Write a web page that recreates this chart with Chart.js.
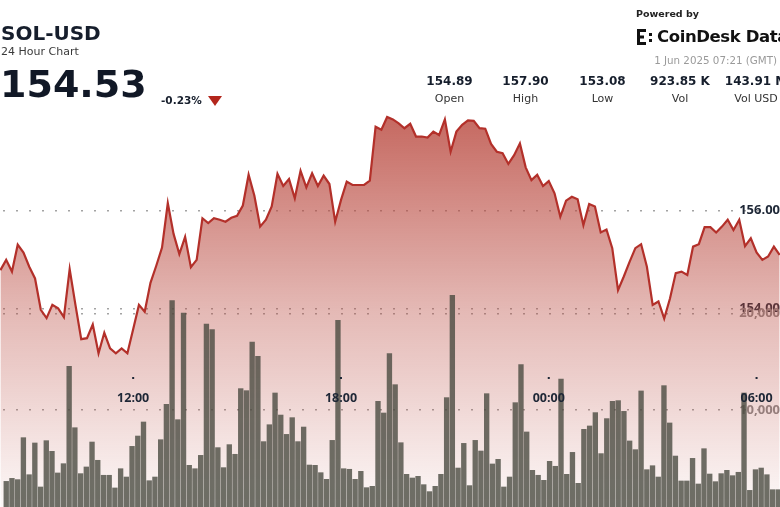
<!DOCTYPE html>
<html>
<head>
<meta charset="utf-8">
<script src="https://cdn.jsdelivr.net/npm/chart.js@4.4.1/dist/chart.umd.min.js"></script>
<style>
  html, body { margin: 0; padding: 0; background: #fff; }
  body { width: 780px; height: 507px; overflow: hidden; position: relative; color: #161e2c; }
  #chart { position: absolute; left: 0; top: 0; }
  .t { position: absolute; line-height: 1; white-space: nowrap; font-family: "DejaVu Sans", sans-serif; }
  .b { font-weight: bold; }
  .stat { width: 90px; text-align: center; }
</style>
</head>
<body>
<canvas id="chart" width="780" height="507"></canvas>

<div class="t b" style="left:1px;top:23px;font-size:20px;">SOL-USD</div>
<div class="t" style="left:1px;top:46px;font-size:11px;color:#3a3a3a;">24 Hour Chart</div>
<div class="t b" style="left:0;top:65px;font-size:38px;color:#111826;">154.53</div>
<div class="t b" style="left:161px;top:95px;font-size:10.5px;">-0.23%</div>
<div style="position:absolute;left:208px;top:96px;width:0;height:0;border-left:7px solid transparent;border-right:7px solid transparent;border-top:10px solid #b3261c;"></div>

<div class="t b" style="left:636px;top:9px;font-size:9.5px;color:#222;">Powered by</div>
<svg style="position:absolute;left:636px;top:28px" width="20" height="18" viewBox="0 0 20 18">
  <rect x="1" y="1" width="3" height="16" fill="#111"/>
  <rect x="1" y="1" width="9" height="3" fill="#111"/>
  <rect x="1" y="7.5" width="7" height="3" fill="#111"/>
  <rect x="1" y="14" width="9" height="3" fill="#111"/>
  <rect x="13" y="5" width="3" height="3" fill="#111"/>
  <rect x="13" y="11" width="3" height="3" fill="#111"/>
</svg>
<div class="t b" style="left:657px;top:29px;font-size:16.5px;letter-spacing:-0.4px;color:#111;">CoinDesk Data</div>
<div class="t" style="right:3px;top:55px;font-size:10.3px;color:#9a9a9a;">1 Jun 2025 07:21 (GMT)</div>

<div id="stats"></div>

<script>
// header stats
const statLabels = ['Open', 'High', 'Low', 'Vol', 'Vol USD'];
const statValues = ['154.89', '157.90', '153.08', '923.85 K', '143.91 M'];
const statCenters = [449.5, 525.5, 602.5, 680, 756];

// 10-minute candles, first visible one at 08:10
const startTime = '08:10';
const stepMinutes = 10;

const priceValues = [
  154.78, 154.99, 154.75, 155.30, 155.14, 154.85, 154.61, 153.97, 153.80, 154.07,
  154.00, 153.82, 154.80, 154.07, 153.37, 153.39, 153.67, 153.08, 153.50, 153.18,
  153.08, 153.18, 153.08, 153.57, 154.07, 153.93, 154.52, 154.87, 155.24, 156.15,
  155.52, 155.11, 155.46, 154.84, 154.99, 155.84, 155.74, 155.84, 155.81, 155.77,
  155.85, 155.89, 156.10, 156.73, 156.30, 155.67, 155.81, 156.08, 156.75, 156.50,
  156.64, 156.25, 156.81, 156.47, 156.76, 156.50, 156.71, 156.54, 155.77, 156.21,
  156.59, 156.52, 156.52, 156.52, 156.61, 157.71, 157.65, 157.91, 157.86, 157.78,
  157.68, 157.77, 157.51, 157.51, 157.49, 157.61, 157.54, 157.86, 157.20, 157.61,
  157.75, 157.84, 157.83, 157.68, 157.67, 157.36, 157.20, 157.17, 156.95, 157.13,
  157.37, 156.88, 156.62, 156.73, 156.50, 156.60, 156.35, 155.87, 156.20, 156.28,
  156.23, 155.70, 156.13, 156.08, 155.55, 155.61, 155.23, 154.37, 154.65, 154.95,
  155.23, 155.31, 154.85, 154.07, 154.14, 153.79, 154.20, 154.72, 154.75, 154.68,
  155.26, 155.31, 155.66, 155.66, 155.55, 155.67, 155.81, 155.60, 155.81, 155.27,
  155.43, 155.14, 154.99, 155.06, 155.26, 155.09
];

const volumeValues = [
  2650, 2960, 2830, 7170, 3340, 6620, 2070, 6860, 5760, 3520,
  4480, 14550, 8200, 3450, 4140, 6720, 4830, 3280, 3280, 1970,
  3960, 3100, 6270, 7340, 8790, 2720, 3100, 6960, 10620, 21340,
  9030, 20060, 4310, 3960, 5340, 18920, 18340, 6140, 4070, 6450,
  5450, 12240, 12030, 17060, 15580, 6760, 8510, 11790, 9510, 7510,
  9240, 6760, 8270, 4340, 4310, 3550, 2860, 6890, 19300, 3960,
  3900, 2860, 3690, 2000, 2140, 10930, 9720, 15860, 12650, 6650,
  3380, 3000, 3170, 2310, 1590, 2140, 3380, 11310, 21890, 4030,
  6580, 2210, 6890, 5790, 11720, 4450, 4930, 2070, 3100, 10790,
  14720, 7760, 3790, 3280, 2760, 4720, 4210, 13240, 3380, 5650,
  2450, 8030, 8380, 9760, 5520, 9140, 10930, 11000, 9890, 6830,
  5930, 12000, 3860, 4270, 3100, 12550, 8690, 5270, 2690, 2690,
  5030, 2380, 6030, 3410, 2620, 3450, 3790, 3240, 3590, 11790,
  1720, 3860, 4030, 3340, 1790, 1790
];

const priceTicks = [154, 156];
const volumeTicks = [10000, 20000];
const timeTickLabels = ['12:00', '18:00', '00:00', '06:00'];

function toMinutes(hhmm) {
  const [h, m] = hhmm.split(':').map(Number);
  return h * 60 + m;
}
function minutesFromStart(hhmm) {
  return (toMinutes(hhmm) - toMinutes(startTime) + 1440) % 1440;
}

// stats row
const statsEl = document.getElementById('stats');
statLabels.forEach((label, i) => {
  const left = statCenters[i] - 45;
  statsEl.insertAdjacentHTML('beforeend',
    `<div class="t b stat" style="left:${left}px;top:74.5px;font-size:12px;">${statValues[i]}</div>` +
    `<div class="t stat" style="left:${left}px;top:92.5px;font-size:11px;color:#333;">${label}</div>`);
});

// y axes sit on the right edge with labels drawn inside the plot, taking no room
function flatAxis(scale) {
  scale.width = 0;
  scale.paddingTop = 0;
  scale.paddingBottom = 0;
  scale.paddingLeft = 0;
  scale.paddingRight = 0;
}

// time labels are printed inside the plot, above the volume bars
const timeLabels = {
  id: 'timeLabels',
  afterDatasetsDraw(chart) {
    const { ctx, chartArea, scales } = chart;
    ctx.save();
    ctx.fillStyle = '#1e2736';
    ctx.font = 'bold 12.5px "Open Sans"';
    ctx.textAlign = 'center';
    ctx.textBaseline = 'middle';
    timeTickLabels.forEach((label) => {
      const x = scales.x.getPixelForValue(minutesFromStart(label));
      ctx.fillRect(x - 1, chartArea.bottom - 130, 2, 2);
      ctx.fillText(label, x, chartArea.bottom - 109);
    });
    ctx.restore();
  },
};

const noTicks = (s) => { s.ticks = []; };

const ctx = document.getElementById('chart').getContext('2d');
new Chart(ctx, {
  data: {
    datasets: [
      {
        type: 'line',
        label: 'Price',
        data: priceValues.map((v, i) => ({ x: i * stepMinutes, y: v })),
        xAxisID: 'x',
        yAxisID: 'y',
        borderColor: '#b3302a',
        borderWidth: 2.2,
        pointRadius: 0,
        tension: 0,
        fill: 'start',
        backgroundColor(context) {
          const { chart } = context;
          const { ctx, chartArea, scales } = chart;
          if (!chartArea) return 'rgba(185,72,62,0.4)';
          const top = scales.y.getPixelForValue(Math.max(...priceValues));
          const g = ctx.createLinearGradient(0, top, 0, chartArea.bottom);
          g.addColorStop(0, 'rgba(185,72,62,0.82)');
          g.addColorStop(0.5, 'rgba(185,72,62,0.38)');
          g.addColorStop(1, 'rgba(185,72,62,0.04)');
          return g;
        },
        order: 2,
      },
      {
        type: 'bar',
        label: 'Volume',
        data: volumeValues.map((v, i) => ({ x: i * stepMinutes + stepMinutes / 2, y: v })),
        xAxisID: 'xv',
        yAxisID: 'yv',
        backgroundColor: 'rgba(70,72,62,0.78)',
        barThickness: 4.7,
        order: 1,
      },
    ],
  },
  options: {
    responsive: false,
    animation: false,
    devicePixelRatio: 1,
    layout: { padding: 0 },
    plugins: { legend: { display: false }, tooltip: { enabled: false } },
    scales: {
      x: { type: 'linear', display: false, offset: false, min: -0.7, max: 1350.6, afterBuildTicks: noTicks },
      // volume bars read slightly tighter than the price line in the picture
      xv: {
        type: 'linear', display: false, offset: false, min: -1.8, max: 1362,
        grid: { offset: false }, afterBuildTicks: noTicks,
      },
      y: {
        type: 'linear',
        position: 'right',
        min: 149.94,
        max: 160.30,
        z: 1,
        afterBuildTicks: (s) => { s.ticks = priceTicks.map((v) => ({ value: v })); },
        afterFit: flatAxis,
        grid: { drawTicks: false, color: '#a3a3a3', lineWidth: 1.6 },
        border: { display: false, dash: [2, 11], dashOffset: -3 },
        ticks: {
          mirror: true,
          padding: 0,
          color: '#1e2736',
          font: { family: 'Open Sans', weight: 'bold', size: 13 },
          callback: (v) => v.toFixed(2),
        },
      },
      yv: {
        type: 'linear',
        position: 'right',
        min: 0,
        max: 52430,
        z: 0,
        afterBuildTicks: (s) => { s.ticks = volumeTicks.map((v) => ({ value: v })); },
        afterFit: flatAxis,
        grid: { drawTicks: false, color: '#a3a3a3', lineWidth: 1.6 },
        border: { display: false, dash: [2, 11], dashOffset: -3 },
        ticks: {
          mirror: true,
          padding: 0,
          color: '#8c8c8c',
          font: { family: 'Open Sans', weight: 'bold', size: 13 },
          callback: (v) => v.toLocaleString('en-US'),
        },
      },
    },
  },
  plugins: [timeLabels],
});
</script>
</body>
</html>
